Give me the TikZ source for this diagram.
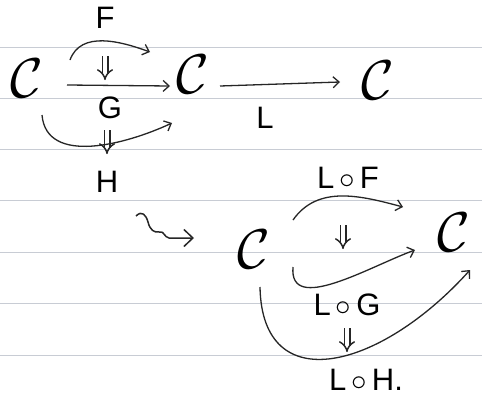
\documentclass[tikz,border=0pt]{standalone}
\usepackage{fix-cm}
\usepackage{fontspec}
\setmainfont{Liberation Sans}
\usepackage{amsmath,amssymb}
\usetikzlibrary{arrows.meta}
\definecolor{ruling}{RGB}{200,204,212}
\newcommand{\cmp}{\hspace{5pt}$\circ$\hspace{5pt}}
\begin{document}
\begin{tikzpicture}[x=1pt,y=-1pt,
  obj/.style={inner sep=0pt, font=\fontsize{56}{60}\selectfont},
  lab/.style={inner sep=0pt, font=\fontsize{31}{32}\selectfont},
  arr/.style={line width=1.3pt, draw=black!85, -{Straight Barb[length=6pt,width=11pt,line width=1.3pt]}},
  twocell/.style={draw=black!85, line width=1.5pt, double, double distance=4pt, -{Implies}},
  rule/.style={draw=ruling, line width=1pt}]
\useasboundingbox (0,0) rectangle (482,399);
\fill[white] (0,0) rectangle (482,399);
\foreach \y in {47,98,149,200,252,303,355}
  \draw[rule] (0,\y) -- (482,\y);
% objects
\node[obj] (C1) at (27,78) {$\mathcal{C}$};
\node[obj] (C2) at (193,74) {$\mathcal{C}$};
\node[obj] (C3) at (378,80) {$\mathcal{C}$};
\node[obj] (C4) at (254,249) {$\mathcal{C}$};
\node[obj] (C5) at (454,232) {$\mathcal{C}$};
% labels
\node[lab] (F) at (105,18) {F};
\node[lab] (G) at (110,108) {G};
\node[lab] (H) at (107,182) {H};
\node[lab] (L) at (265,118) {L};
\node[lab] (LF) at (348,178) {L\cmp F};
\node[lab] (LG) at (347,305) {L\cmp G};
\node[lab] (LH) at (366,380) {L\cmp H.};
% 2-cells
\coordinate (d1) at (105,68);
\coordinate (d2) at (107,142);
\coordinate (d3) at (343,237);
\coordinate (d4) at (347,340);
\foreach \d in {d1,d2,d3,d4}
  \draw[twocell] ([yshift=12]\d) -- ([yshift=-12]\d);
% squiggle
\coordinate (sqs) at (136,216);
\coordinate (sqe) at (194,238);
\draw[line width=1.5pt, draw=black!85, -{Straight Barb[length=9pt,width=17pt,line width=1.5pt]}]
  (sqs) .. controls (142,210) and (146,215) .. (148,222)
  .. controls (150,230) and (154,233) .. (160,232)
  .. controls (164,231) and (164,237) .. (169,238) -- (sqe);
% arrows top
\draw[arr] ([shift={(43,-18)}]C1.center) to[out=70,in=160] ([shift={(-43,-22)}]C2.center);
\draw[arr] ([shift={(40,7)}]C1.center) -- ([shift={(-23,12)}]C2.center);
\draw[arr] ([shift={(15,37)}]C1.center) to[out=-85,in=205] ([shift={(-21,49)}]C2.center);
\draw[arr] ([shift={(27,12)}]C2.center) -- ([shift={(-38,2)}]C3.center);
% arrows bottom
\draw[arr] ([shift={(39,-29)}]C4.center) to[out=55,in=165] ([shift={(-51,-25)}]C5.center);
\draw[arr] ([shift={(39,18)}]C4.center) to[out=-95,in=200] ([shift={(-39,18)}]C5.center);
\draw[arr] ([shift={(6,38)}]C4.center) .. controls ([shift={(8,151)}]C4.center) and ([shift={(-74,138)}]C5.center) .. ([shift={(16,38)}]C5.center);
\end{tikzpicture}
\end{document}
